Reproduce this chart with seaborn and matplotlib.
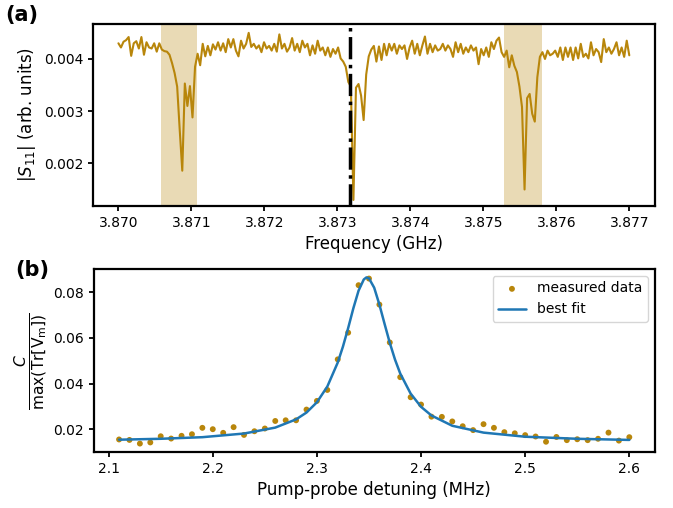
import numpy as np
import pandas as pd
import matplotlib
matplotlib.use("Agg")
import matplotlib.pyplot as plt
from matplotlib.ticker import FormatStrFormatter
import seaborn as sns

# (a) |S11| sweep, 3.870 -> 3.877 GHz, 201 points (values in 1e-3 arb. units)
freq_start, freq_stop, n_pts = 3.870, 3.877, 201
s11_vals = [
    4.30, 4.22, 4.33, 4.36, 4.42, 4.06, 4.30, 4.34, 4.20, 4.42,
    4.08, 4.32, 4.22, 4.20, 4.30, 4.14, 4.30, 4.18, 4.15, 4.14,
    4.08, 3.92, 3.73, 3.47, 2.64, 1.86, 3.53, 3.10, 3.48, 2.88,
    3.85, 4.10, 3.88, 4.29, 4.05, 4.25, 4.07, 4.28, 4.18, 4.32,
    4.16, 4.30, 4.13, 4.38, 4.22, 4.38, 4.16, 4.05, 4.35, 4.20,
    4.29, 4.50, 4.23, 4.29, 4.20, 4.26, 4.13, 4.32, 4.20, 4.25,
    4.16, 4.29, 4.14, 4.47, 4.20, 4.29, 4.14, 4.22, 4.40, 4.16,
    4.29, 4.13, 4.35, 4.22, 4.29, 4.07, 4.26, 4.10, 4.35, 4.16,
    4.22, 4.07, 4.22, 4.04, 4.19, 4.10, 4.22, 4.01, 3.95, 3.85,
    3.56, 3.47, 1.30, 3.45, 3.52, 3.30, 2.83, 3.70, 4.05, 4.18,
    4.25, 3.95, 4.24, 3.98, 4.29, 4.07, 4.29, 4.16, 4.29, 4.10,
    4.26, 4.19, 4.26, 4.00, 4.22, 4.35, 4.10, 4.29, 4.07, 4.26,
    4.43, 4.10, 4.29, 4.13, 4.26, 4.16, 4.19, 4.29, 4.16, 4.26,
    4.19, 4.04, 4.32, 4.13, 4.29, 4.10, 4.22, 4.13, 4.26, 4.16,
    4.22, 3.90, 4.19, 4.07, 4.22, 4.04, 4.32, 4.19, 4.35, 4.41,
    4.13, 4.04, 4.16, 3.84, 4.07, 3.87, 3.75, 3.47, 3.08, 1.50,
    3.25, 3.33, 2.95, 2.80, 3.65, 4.04, 4.13, 4.00, 4.16, 4.07,
    4.10, 4.16, 4.04, 4.22, 3.98, 4.22, 4.04, 4.22, 3.98, 4.22,
    4.01, 4.29, 4.04, 4.10, 4.01, 4.32, 4.07, 4.19, 4.13, 3.94,
    4.38, 4.13, 4.22, 4.10, 4.19, 4.32, 4.07, 4.22, 4.04, 4.35,
    4.07,
]
shade_spans = [(3.87058, 3.87108), (3.87529, 3.87580)]
pump_freq = 3.87318

# (b) pump-probe detuning scan
detuning = [2.11, 2.12, 2.13, 2.14, 2.15, 2.16, 2.17, 2.18, 2.19, 2.20,
            2.21, 2.22, 2.23, 2.24, 2.25, 2.26, 2.27, 2.28, 2.29, 2.30,
            2.31, 2.32, 2.33, 2.34, 2.35, 2.36, 2.37, 2.38, 2.39, 2.40,
            2.41, 2.42, 2.43, 2.44, 2.45, 2.46, 2.47, 2.48, 2.49, 2.50,
            2.51, 2.52, 2.53, 2.54, 2.55, 2.56, 2.57, 2.58, 2.59, 2.60]
measured = [0.0155, 0.0153, 0.0137, 0.0142, 0.0169, 0.0159, 0.0171, 0.0178, 0.0206, 0.0200,
            0.0184, 0.0209, 0.0175, 0.0191, 0.0203, 0.0236, 0.0239, 0.0239, 0.0286, 0.0324,
            0.0372, 0.0506, 0.0623, 0.0831, 0.0860, 0.0746, 0.0580, 0.0428, 0.0340, 0.0308,
            0.0255, 0.0254, 0.0234, 0.0213, 0.0196, 0.0222, 0.0206, 0.0187, 0.0182, 0.0174,
            0.0168, 0.0145, 0.0166, 0.0152, 0.0156, 0.0152, 0.0158, 0.0185, 0.0150, 0.0165]
fit_x = [2.11, 2.15, 2.19, 2.23, 2.26, 2.28, 2.29, 2.30, 2.31, 2.32,
         2.325, 2.33, 2.335, 2.34, 2.345, 2.3475, 2.35, 2.355, 2.36, 2.365,
         2.37, 2.375, 2.38, 2.39, 2.40, 2.41, 2.43, 2.46, 2.50, 2.55, 2.60]
fit_y = [0.0154, 0.0158, 0.0165, 0.0181, 0.0207, 0.0243, 0.0273, 0.0318, 0.0387, 0.0492,
         0.0562, 0.0643, 0.0730, 0.0807, 0.0856, 0.0865, 0.0861, 0.0820, 0.0746, 0.0661,
         0.0578, 0.0505, 0.0444, 0.0356, 0.0298, 0.0260, 0.0215, 0.0185, 0.0167, 0.0158, 0.0153]

gold = "#b8860b"
blue = "#1f77b4"

sns.set_style("ticks")
plt.rcParams["font.family"] = ["DejaVu Sans"]
plt.rcParams.update({
    "axes.linewidth": 1.6,
    "xtick.major.width": 1.3,
    "ytick.major.width": 1.3,
    "xtick.labelsize": 10,
    "ytick.labelsize": 10,
    "xtick.color": "black",
    "ytick.color": "black",
    "axes.edgecolor": "black",
    "axes.labelcolor": "black",
    "text.color": "black",
})

fig = plt.figure(figsize=(6.73, 5.08), dpi=100)
ax1 = fig.add_axes([0.138, 0.5945, 0.835, 0.3583])
ax2 = fig.add_axes([0.139, 0.1102, 0.834, 0.3603])

# top panel
df_a = pd.DataFrame({"freq": np.linspace(freq_start, freq_stop, n_pts),
                     "s11": np.array(s11_vals) * 1e-3})
for lo, hi in shade_spans:
    ax1.axvspan(lo, hi, color=gold, alpha=0.3, lw=0)
sns.lineplot(data=df_a, x="freq", y="s11", color=gold, lw=1.5, ax=ax1)
ax1.axvline(pump_freq, color="black", ls="-.", lw=2.5)
ax1.set_xticks([3.870, 3.871, 3.872, 3.873, 3.874, 3.875, 3.876, 3.877])
ax1.set_yticks([0.002, 0.003, 0.004])
ax1.xaxis.set_major_formatter(FormatStrFormatter("%.3f"))
ax1.yaxis.set_major_formatter(FormatStrFormatter("%.3f"))
ax1.set_ylim(0.001184, 0.00467)
ax1.set_xlabel("Frequency (GHz)", fontsize=12)
ax1.set_ylabel(r"$|S_{11}|$ (arb. units)", fontsize=12)

# bottom panel
df_b = pd.DataFrame({"detuning": detuning, "value": measured})
df_fit = pd.DataFrame({"detuning": fit_x, "value": fit_y})
sns.scatterplot(data=df_b, x="detuning", y="value", color=gold, s=18,
                edgecolor="none", label="measured data", ax=ax2)
sns.lineplot(data=df_fit, x="detuning", y="value", color=blue, lw=1.8,
             label="best fit", ax=ax2)
ax2.set_xticks([2.1, 2.2, 2.3, 2.4, 2.5, 2.6])
ax2.set_yticks([0.02, 0.04, 0.06, 0.08])
ax2.xaxis.set_major_formatter(FormatStrFormatter("%.1f"))
ax2.yaxis.set_major_formatter(FormatStrFormatter("%.2f"))
ax2.set_xlim(2.0855, 2.6245)
ax2.set_ylim(0.0100, 0.0902)
ax2.set_xlabel("Pump-probe detuning (MHz)", fontsize=12)
ax2.set_ylabel(r"$\frac{C}{\mathrm{max}(\mathrm{Tr}[\mathrm{V_m}])}$", fontsize=16,
               labelpad=2)
ax2.legend(loc="upper right", fontsize=10, frameon=True)

fig.text(0.008, 0.990, "(a)", fontsize=15, fontweight="bold", va="top", ha="left")
fig.text(0.022, 0.488, "(b)", fontsize=15, fontweight="bold", va="top", ha="left")

fig.savefig("out.png", dpi=100)
